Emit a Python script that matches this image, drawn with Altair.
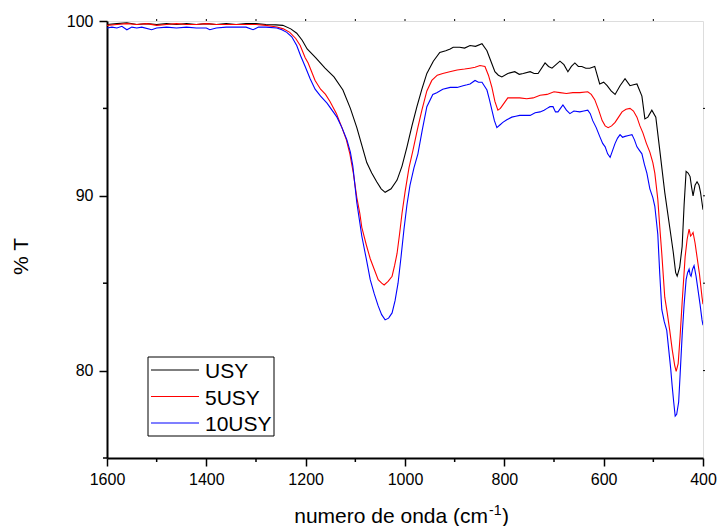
import altair as alt
import pandas as pd

# ---- data ----
usy_x = [1600, 1580, 1560, 1540, 1520, 1500, 1480, 1460, 1440, 1420, 1400, 1380, 1360, 1340, 1320, 1300, 1280, 1260,
         1246, 1230, 1218, 1207, 1197, 1180, 1161, 1143, 1125, 1110, 1097, 1087, 1077, 1067, 1057, 1048, 1040, 1028,
         1016, 1006, 996, 986, 976, 966, 956, 943, 930, 918, 909, 903, 890, 880, 869, 858, 845, 835, 827, 819, 812,
         805, 793, 779, 770, 762, 748, 740, 732, 718, 711, 704, 696, 688, 680, 672, 665, 658, 651, 644, 636, 628, 618,
         608, 600, 593, 585, 577, 567, 557, 547, 540, 533, 523, 517, 511, 503, 495, 487, 477, 467, 460, 455, 452, 447,
         442, 438, 434, 430, 426, 423, 420, 416, 412, 408, 405, 402, 400]
usy_y = [99.8, 99.85, 99.9, 99.8, 99.85, 99.8, 99.85, 99.8, 99.85, 99.8, 99.85, 99.8, 99.85, 99.8, 99.85, 99.85, 99.8,
         99.78, 99.75, 99.55, 99.3, 98.9, 98.4, 97.9, 97.3, 96.8, 96.05, 95.0, 93.9, 92.9, 91.9, 91.3, 90.8, 90.4,
         90.2, 90.4, 90.9, 91.7, 92.8, 94.0, 95.1, 96.1, 97.0, 97.7, 98.2, 98.3, 98.4, 98.5, 98.5, 98.45, 98.6, 98.55,
         98.7, 98.3, 97.7, 97.1, 96.9, 96.8, 97.0, 97.1, 96.95, 97.0, 97.1, 97.0, 97.0, 97.6, 97.4, 97.3, 97.5, 97.7,
         97.5, 97.1, 97.4, 97.6, 97.4, 97.4, 97.3, 97.3, 97.4, 96.4, 96.5, 96.3, 96.0, 95.8, 96.3, 96.7, 96.3, 96.35,
         96.4, 95.7, 94.4, 94.5, 94.9, 94.5, 92.6, 90.2, 88.2, 86.8, 85.6, 85.4, 85.9, 87.1, 89.5, 91.4, 91.3, 91.1,
         90.5, 90.0, 90.6, 90.8, 90.6, 90.2, 89.6, 89.2]

usy5_x = [1600, 1580, 1560, 1540, 1520, 1500, 1480, 1460, 1440, 1420, 1400, 1380, 1360, 1340, 1320, 1300, 1280, 1258,
          1245, 1232, 1220, 1211, 1201, 1195, 1188, 1181, 1170, 1160, 1151, 1138, 1127, 1118, 1111, 1104, 1097, 1091,
          1087, 1078, 1070, 1062, 1054, 1047, 1042, 1034, 1026, 1021, 1016, 1011, 1006, 1000, 992, 984, 975, 966, 956,
          946, 935, 924, 910, 895, 880, 869, 859, 849, 839, 832, 825, 819, 813, 808, 803, 793, 780, 769, 755, 742, 728,
          714, 700, 688, 675, 662, 648, 632, 625, 618, 610, 603, 597, 591, 584, 577, 570, 563, 555, 547, 540, 533, 527,
          521, 514, 507, 501, 497, 491, 487, 483, 477, 472, 467, 462, 457, 454, 450, 446, 442, 439, 436, 432, 428, 425,
          422, 420, 416, 412, 407, 402, 400]
usy5_y = [99.75, 99.8, 99.85, 99.8, 99.85, 99.75, 99.8, 99.85, 99.8, 99.8, 99.85, 99.8, 99.8, 99.8, 99.8, 99.8, 99.75,
          99.66, 99.55, 99.35, 99.0, 98.6, 97.9, 97.6, 97.1, 96.6, 96.1, 95.8, 95.4, 94.7, 93.9, 93.2, 92.4, 91.3, 89.9,
          89.0, 88.2, 87.2, 86.4, 85.8, 85.2, 85.0, 84.9, 85.1, 85.4, 86.0, 86.7, 87.8, 89.0, 90.2, 91.6, 92.6, 93.8,
          94.9, 96.0, 96.6, 96.9, 97.0, 97.1, 97.2, 97.25, 97.3, 97.35, 97.45, 97.4, 96.9, 96.2, 95.4, 94.9, 95.0, 95.2,
          95.6, 95.6, 95.6, 95.55, 95.6, 95.75, 95.8, 95.95, 95.9, 95.85, 95.9, 95.9, 95.95, 95.8, 95.5, 94.9, 94.3,
          94.0, 93.9, 94.0, 94.2, 94.5, 94.8, 94.95, 95.0, 94.85, 94.5, 94.0, 93.6, 93.0, 92.5, 91.9, 91.3, 89.8, 88.2,
          86.7, 84.2, 83.3, 82.3, 81.2, 80.3, 79.95, 80.4, 82.0, 83.9, 85.2, 86.5, 87.5, 88.1, 87.7, 87.8, 87.9, 87.3,
          86.5, 85.5, 84.2, 83.8]

usy10_x = [1600, 1590, 1580, 1570, 1560, 1550, 1540, 1530, 1510, 1500, 1480, 1460, 1440, 1420, 1400, 1393, 1380, 1360,
           1340, 1320, 1306, 1295, 1280, 1258, 1248, 1238, 1228, 1218, 1210, 1201, 1191, 1181, 1170, 1157, 1147, 1137,
           1127, 1117, 1110, 1105, 1097, 1087, 1078, 1070, 1062, 1054, 1047, 1040, 1033, 1026, 1020, 1014, 1008, 1002,
           996, 990, 982, 974, 965, 956, 944, 936, 924, 909, 895, 883, 875, 869, 859, 852, 845, 835, 830, 825, 820, 815,
           809, 803, 795, 785, 777, 769, 760, 748, 738, 728, 720, 714, 708, 702, 697, 692, 687, 682, 675, 668, 660, 648,
           640, 632, 627, 622, 615, 608, 602, 597, 592, 587, 582, 577, 572, 567, 562, 557, 550, 543, 538, 533, 528, 523,
           518, 513, 507, 501, 497, 491, 487, 483, 478, 473, 469, 465, 462, 459, 456, 453, 449, 446, 442, 438, 434, 431,
           428, 426, 424, 421, 418, 414, 410, 406, 402, 400]
usy10_y = [99.6, 99.65, 99.6, 99.7, 99.5, 99.65, 99.6, 99.65, 99.5, 99.6, 99.65, 99.6, 99.65, 99.6, 99.6, 99.5, 99.6,
           99.65, 99.65, 99.65, 99.5, 99.65, 99.65, 99.6, 99.5, 99.35, 99.1, 98.6, 98.0, 97.4, 96.7, 96.1, 95.7, 95.3,
           94.9, 94.5, 93.9, 93.2, 92.5, 91.7, 89.6, 87.7, 86.4, 85.2, 84.4, 83.7, 83.2, 82.9, 83.0, 83.3, 84.0, 85.0,
           86.5, 88.1, 89.5, 90.6, 91.6, 92.4, 93.8, 95.1, 95.8, 95.9, 96.1, 96.2, 96.2, 96.3, 96.35, 96.4, 96.6, 96.5,
           96.5, 96.05, 95.5, 94.9, 94.3, 93.9, 94.05, 94.2, 94.35, 94.5, 94.55, 94.6, 94.6, 94.6, 94.75, 94.8, 94.9,
           95.0, 95.1, 95.1, 94.8, 94.8, 95.0, 95.2, 94.9, 94.7, 94.85, 94.8, 94.85, 94.9, 94.7, 94.3, 93.9, 93.4, 93.0,
           92.8, 92.4, 92.2, 92.6, 93.0, 93.3, 93.5, 93.35, 93.4, 93.45, 93.5, 93.2, 92.8, 92.6, 92.4, 91.8, 91.3, 90.4,
           89.9, 89.4, 87.8, 85.5, 83.5, 82.8, 82.3, 81.2, 80.1, 79.1, 78.2, 77.4, 77.5, 78.2, 79.8, 82.0, 83.8, 85.2,
           85.6, 85.8, 85.5, 85.4, 85.8, 86.0, 85.4, 84.6, 83.8, 82.9, 82.6]

series_names = ["USY", "5USY", "10USY"]
series_colors = ["#000000", "#ff0000", "#0000ff"]

x_major = [1600, 1400, 1200, 1000, 800, 600, 400]
x_minor = [1500, 1300, 1100, 900, 700, 500]
x_top = [1500, 1400, 1300, 1200, 1100, 1000, 900, 800, 700, 600, 500]
y_major = [80, 90, 100]
y_minor = [75, 85, 95]
y_right = [80, 85, 90, 95]

FONT = "Liberation Sans"
W, H = 596, 437

rows = []
for name, xs, ys in zip(series_names, [usy_x, usy5_x, usy10_x], [usy_y, usy5_y, usy10_y]):
    for i, (a, b) in enumerate(zip(xs, ys)):
        rows.append({"wn": a, "T": b, "serie": name, "idx": i})
df = pd.DataFrame(rows)

xscale = alt.Scale(domain=[400, 1600], reverse=True, nice=False, zero=False)
yscale = alt.Scale(domain=[75, 100], nice=False, zero=False)

lines = alt.Chart(df).mark_line(strokeWidth=1.1, clip=True).encode(
    x=alt.X("wn:Q", scale=xscale,
            axis=alt.Axis(values=x_major, title=None, format="d", labelFont=FONT, labelFontSize=16,
                          labelColor="black", tickSize=8, tickWidth=1.5, tickColor="black",
                          domainColor="black", domainWidth=2, labelPadding=5, grid=False,
                          labelFlush=False, labelOverlap=False, labelBound=False)),
    y=alt.Y("T:Q", scale=yscale,
            axis=alt.Axis(values=y_major, title="% T", format="d", labelFont=FONT, labelFontSize=16,
                          labelColor="black", tickSize=8, tickWidth=1.5, tickColor="black",
                          domainColor="black", domainWidth=2, labelPadding=6, grid=False,
                          labelFlush=False, labelOverlap=False,
                          titleFont=FONT, titleFontSize=21, titleFontWeight="normal", titleColor="black",
                          titleAngle=270, titleX=-76, titleY=235, titleAlign="center", titleBaseline="bottom")),
    color=alt.Color("serie:N", scale=alt.Scale(domain=series_names, range=series_colors), legend=None),
    order="idx:Q",
)

xminor = alt.Chart(pd.DataFrame({"v": x_minor})).mark_rule(color="black", strokeWidth=1.5).encode(
    x=alt.X("v:Q", scale=xscale), y=alt.value(H), y2=alt.value(H + 4))
xtop = alt.Chart(pd.DataFrame({"v": x_top})).mark_rule(color="black", strokeWidth=1).encode(
    x=alt.X("v:Q", scale=xscale), y=alt.value(0), y2=alt.value(-2))
yminor = alt.Chart(pd.DataFrame({"v": y_minor})).mark_rule(color="black", strokeWidth=1.5).encode(
    y=alt.Y("v:Q", scale=yscale), x=alt.value(0), x2=alt.value(-4))
yright = alt.Chart(pd.DataFrame({"v": y_right})).mark_rule(color="black", strokeWidth=1).encode(
    y=alt.Y("v:Q", scale=yscale), x=alt.value(W), x2=alt.value(W + 2))

# legend box (drawn by hand so its rows match the reference spacing)
legend_box = alt.Chart(pd.DataFrame({"a": [0]})).mark_rect(
    fill="white", stroke="black", strokeWidth=1).encode(
    x=alt.value(41), x2=alt.value(167), y=alt.value(336), y2=alt.value(415))
legend_layers = [legend_box]
row_y = [349, 375.5, 402]
for name, colr, ry in zip(series_names, series_colors, row_y):
    ldf = pd.DataFrame({"serie": [name]})
    legend_layers.append(alt.Chart(ldf).mark_rule(color=colr, strokeWidth=1.2).encode(
        x=alt.value(44), x2=alt.value(92), y=alt.value(ry)))
    legend_layers.append(alt.Chart(ldf).mark_text(
        font=FONT, fontSize=21, align="left", baseline="alphabetic", color="black").encode(
        text="serie:N", x=alt.value(98), y=alt.value(ry + 8)))

title_main = alt.Chart(pd.DataFrame({"t": ["numero de onda (cm"]})).mark_text(
    font=FONT, fontSize=21, align="right", baseline="alphabetic", color="black").encode(
    text="t:N", x=alt.value(381), y=alt.value(502))
title_sup = alt.Chart(pd.DataFrame({"t": ["-1"]})).mark_text(
    font=FONT, fontSize=14, align="left", baseline="alphabetic", color="black").encode(
    text="t:N", x=alt.value(382), y=alt.value(494))
title_end = alt.Chart(pd.DataFrame({"t": [")"]})).mark_text(
    font=FONT, fontSize=21, align="left", baseline="alphabetic", color="black").encode(
    text="t:N", x=alt.value(395), y=alt.value(502))

chart = alt.layer(lines, xminor, xtop, yminor, yright, *legend_layers,
                  title_main, title_sup, title_end).properties(
    width=W, height=H,
    autosize=alt.AutoSizeParams(type="none"),
    padding={"left": 107, "top": 21, "right": 14, "bottom": 68},
).configure_view(stroke="black", strokeWidth=2).configure(background="white")

chart.save("out.html", embed_options={"renderer": "svg", "actions": False})
